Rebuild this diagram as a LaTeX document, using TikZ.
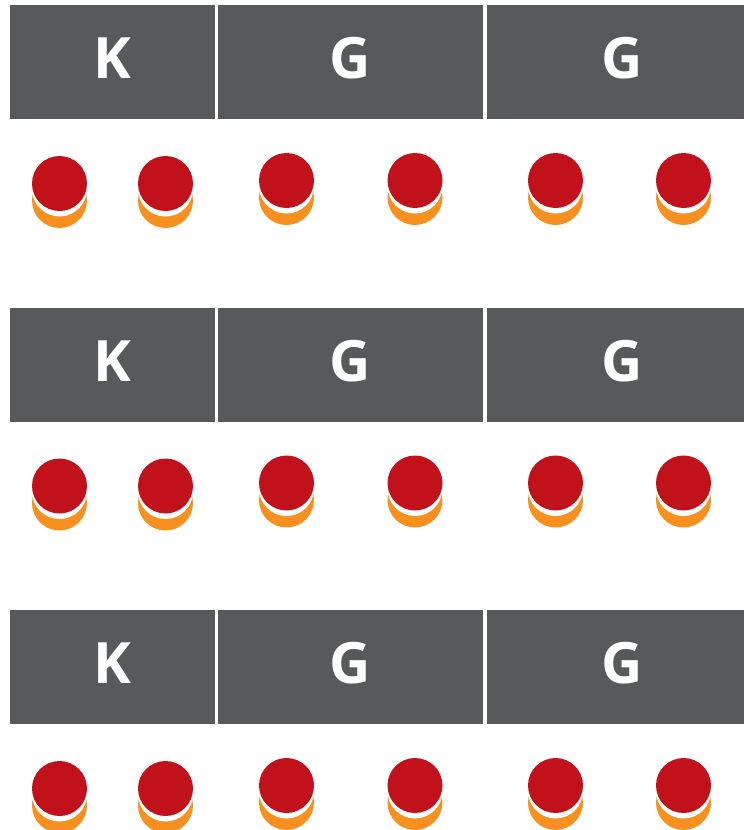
\documentclass[tikz,border=0pt]{standalone}
\usepackage{fontspec}
\newfontfamily\hdrfont{Open Sans}
\usepackage{xcolor}
\definecolor{hdrgray}{HTML}{58595B}
\definecolor{pinred}{HTML}{C1121C}
\definecolor{pinorange}{HTML}{F7901E}

\begin{document}
\begin{tikzpicture}[
    x=1pt, y=-1pt,
    hdr/.style={rectangle, fill=hdrgray, inner sep=0pt, minimum height=114pt, text=white, text height=41pt, text depth=8pt, font=\hdrfont\bfseries\fontsize{57}{57}\selectfont},
    pin/.style={circle, inner sep=0pt, minimum size=55pt},
    pinbase/.style={pin, fill=pinorange},
    pingap/.style={pin, fill=white},
    pintop/.style={pin, fill=pinred}
]
    \useasboundingbox (0,0) rectangle (744,830);
    \clip (0,0) rectangle (744,830);

    \foreach \r/\y in {1/62, 2/364.5, 3/667} {
        % header row
        \node[hdr, minimum width=205pt] (k\r) at (112.5,\y) {K};
        \node[hdr, minimum width=265pt] (ga\r) at (350.5,\y) {G};
        \node[hdr, minimum width=270pt] (gb\r) at (622,\y) {G};
        % pins under the headers
        \foreach \i/\x/\dy in {1/59.5/121.5, 2/165.5/121.5, 3/286.5/118.5, 4/415/118.5, 5/555.5/118.5, 6/683.5/118.5} {
            \node[pinbase] (pb\r\i) at (\x,\y+\dy+17) {};
            \node[pingap] (pg\r\i) at (\x,\y+\dy+5.5) {};
            \node[pintop] (pt\r\i) at (\x,\y+\dy) {};
        }
    }
\end{tikzpicture}
\end{document}
